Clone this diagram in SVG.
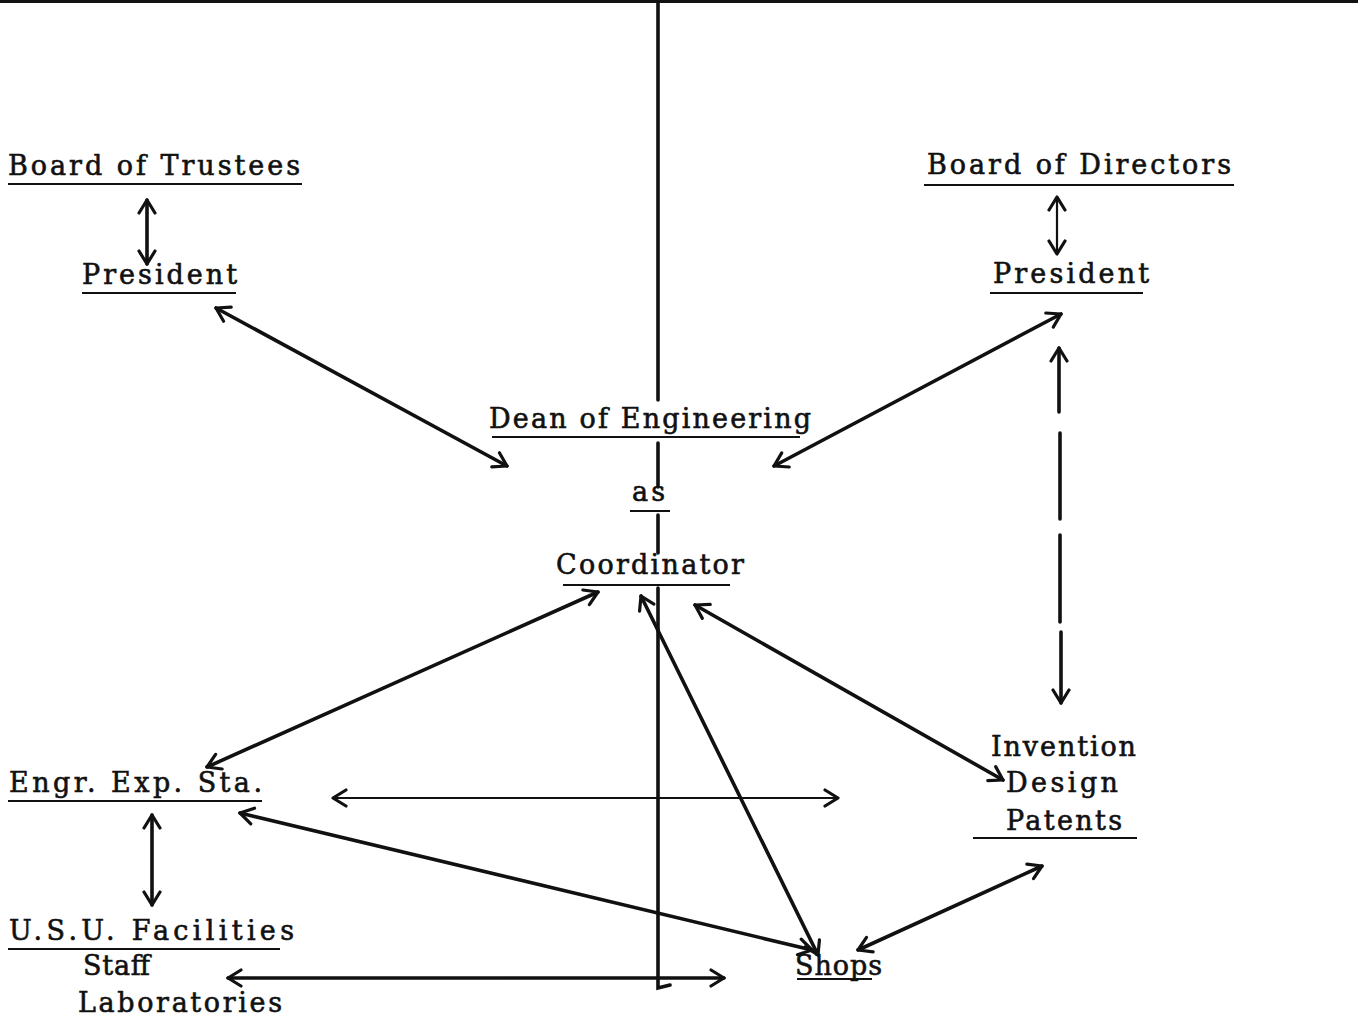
<svg xmlns="http://www.w3.org/2000/svg" width="1358" height="1019" viewBox="0 0 1358 1019">
<style>
.t{font-family:"DejaVu Serif","Liberation Serif",serif;font-size:27px;fill:#111;stroke:#111;stroke-width:0.6}
.u{stroke:#111;stroke-width:2.2;fill:none}
.c{stroke:#111;fill:none;stroke-linecap:round}
.k{stroke-width:3.6}
.n{stroke-width:2.2}
</style>
<defs>
<marker id="a" viewBox="-16 -10 19 20" refX="0" refY="0" markerWidth="19" markerHeight="20" markerUnits="userSpaceOnUse" orient="auto-start-reverse">
<path d="M -13 -8 L 0 0 L -13 8" fill="none" stroke="#111" stroke-width="3.2" stroke-linecap="round" stroke-linejoin="round"/>
</marker>
</defs>
<rect width="1358" height="1019" fill="#fff"/>
<line x1="0" y1="1.5" x2="1358" y2="1.5" stroke="#111" stroke-width="3"/>

<g id="board-trustees"><text class="t" x="8" y="175" textLength="292" lengthAdjust="spacing">Board of Trustees</text><line class="u" x1="8" y1="184" x2="302" y2="184"/></g>
<g id="president-left"><text class="t" x="82" y="284" textLength="155" lengthAdjust="spacing">President</text><line class="u" x1="82" y1="293" x2="236" y2="293"/></g>
<g id="board-directors"><text class="t" x="927" y="174" textLength="304" lengthAdjust="spacing">Board of Directors</text><line class="u" x1="924" y1="185" x2="1234" y2="185"/></g>
<g id="president-right"><text class="t" x="993" y="283" textLength="156" lengthAdjust="spacing">President</text><line class="u" x1="990" y1="293" x2="1143" y2="293"/></g>
<g id="dean"><text class="t" x="489" y="428" textLength="322" lengthAdjust="spacing">Dean of Engineering</text><line class="u" x1="492" y1="437" x2="800" y2="437"/></g>
<g id="as"><text class="t" x="632" y="501" textLength="33" lengthAdjust="spacing">as</text><line class="u" x1="630" y1="511" x2="670" y2="511"/></g>
<g id="coordinator"><text class="t" x="556" y="574" textLength="188" lengthAdjust="spacing">Coordinator</text><line class="u" x1="563" y1="585" x2="730" y2="585"/></g>
<g id="engr"><text class="t" x="9" y="792" textLength="253" lengthAdjust="spacing">Engr. Exp. Sta.</text><line class="u" x1="8" y1="801" x2="262" y2="801"/></g>
<g id="usu"><text class="t" x="9" y="940" textLength="285" lengthAdjust="spacing">U.S.U. Facilities</text><line class="u" x1="8" y1="949" x2="280" y2="949"/><text class="t" x="83" y="975" textLength="67" lengthAdjust="spacing">Staff</text><text class="t" x="78" y="1012" textLength="204" lengthAdjust="spacing">Laboratories</text></g>
<g id="shops"><text class="t" x="795" y="975" textLength="87" lengthAdjust="spacing">Shops</text><line class="u" x1="797" y1="979" x2="872" y2="979"/></g>
<g id="invention"><text class="t" x="991" y="756" textLength="145" lengthAdjust="spacing">Invention</text><text class="t" x="1006" y="792" textLength="112" lengthAdjust="spacing">Design</text><text class="t" x="1006" y="830" textLength="116" lengthAdjust="spacing">Patents</text><line class="u" x1="973" y1="838" x2="1137" y2="838"/></g>

<g id="connectors">
<path class="c k" d="M 658 0 L 658 400 M 658 443 L 658 487 M 658 515 L 658 553 M 658 588 L 658 988 L 670 985"/>
<line class="c k" x1="147" y1="200" x2="147" y2="264" marker-start="url(#a)" marker-end="url(#a)"/>
<line class="c n" x1="1057" y1="197" x2="1057" y2="254" marker-start="url(#a)" marker-end="url(#a)"/>
<line class="c k" x1="216" y1="308" x2="507" y2="466" marker-start="url(#a)" marker-end="url(#a)"/>
<line class="c k" x1="1061" y1="314" x2="774" y2="466" marker-start="url(#a)" marker-end="url(#a)"/>
<line class="c k" x1="1059" y1="348" x2="1059" y2="412" marker-start="url(#a)"/>
<line class="c k" x1="1060" y1="433" x2="1060" y2="519"/>
<line class="c k" x1="1060" y1="535" x2="1060" y2="622"/>
<line class="c k" x1="1061" y1="632" x2="1061" y2="703" marker-end="url(#a)"/>
<line class="c k" x1="598" y1="592" x2="207" y2="767" marker-start="url(#a)" marker-end="url(#a)"/>
<line class="c k" x1="641" y1="596" x2="818" y2="955" marker-start="url(#a)" marker-end="url(#a)"/>
<line class="c k" x1="695" y1="605" x2="1003" y2="780" marker-start="url(#a)" marker-end="url(#a)"/>
<line class="c n" x1="333" y1="798" x2="838" y2="798" marker-start="url(#a)" marker-end="url(#a)"/>
<line class="c k" x1="240" y1="813" x2="812" y2="950" marker-start="url(#a)" marker-end="url(#a)"/>
<line class="c k" x1="152" y1="815" x2="152" y2="905" marker-start="url(#a)" marker-end="url(#a)"/>
<line class="c k" x1="228" y1="978" x2="724" y2="978" marker-start="url(#a)" marker-end="url(#a)"/>
<line class="c k" x1="858" y1="950" x2="1042" y2="866" marker-start="url(#a)" marker-end="url(#a)"/>
</g>
</svg>
